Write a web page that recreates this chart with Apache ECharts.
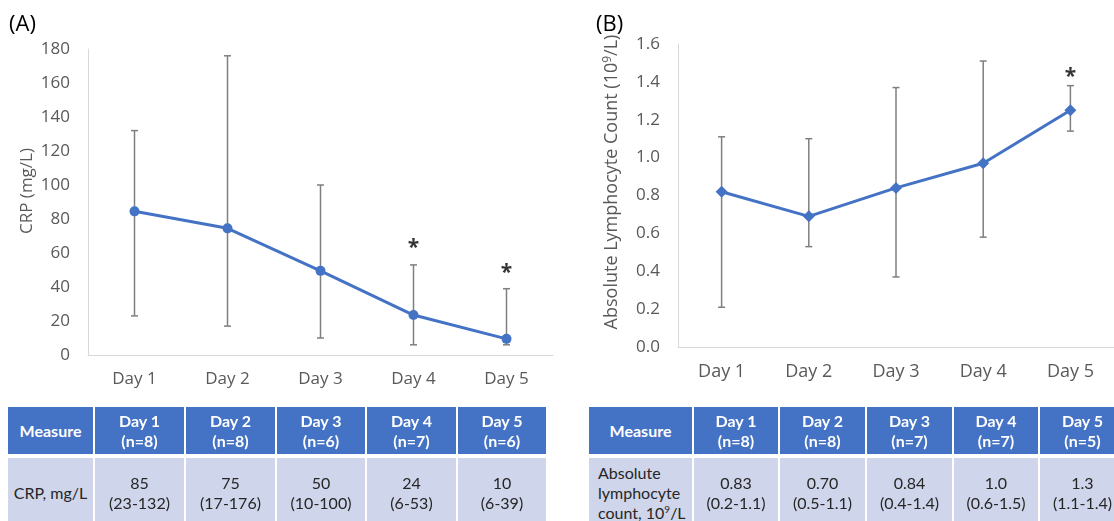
<!DOCTYPE html>
<html><head><meta charset="utf-8">
<script src="https://cdn.jsdelivr.net/npm/echarts@6/dist/echarts.min.js"></script>
<style>
html,body{margin:0;padding:0;background:#fff;width:1114px;height:521px;overflow:hidden;position:relative;}
#chart{position:absolute;left:0;top:0;width:1114px;height:521px;}
.cell{position:absolute;box-sizing:border-box;display:flex;align-items:center;justify-content:center;text-align:center;font-family:Lato,'Open Sans',sans-serif;line-height:20px;}
.hd{background:#4472C4;color:#fff;font-weight:bold;font-size:16px;}
.bd{background:#CFD5EA;color:#262626;font-size:16px;}
.left{justify-content:flex-start;text-align:left;padding-left:9px;}
</style></head>
<body>
<div id="chart"></div>
<div id="tables"></div>
<script>
// ---- data ----
const categories = ['Day 1','Day 2','Day 3','Day 4','Day 5'];
const crpMedian = [84.5, 74.5, 49.5, 23.5, 9.5];
const crpLow    = [23, 17, 10, 6, 6];
const crpHigh   = [132, 176, 100, 53, 39];
const crpSig    = [null, null, null, 66, 51];
const alcMedian = [0.82, 0.69, 0.84, 0.97, 1.25];
const alcLow    = [0.21, 0.53, 0.37, 0.58, 1.14];
const alcHigh   = [1.11, 1.10, 1.37, 1.51, 1.38];
const alcSig    = [null, null, null, null, 1.45];
const crpAxis = {min: 0, max: 180, interval: 20};
const alcAxis = {min: 0, max: 1.6, interval: 0.2};

const crpN = [8, 8, 6, 7, 6];
const crpTableMedian = ['85','75','50','24','10'];
const crpTableRange = ['(23-132)','(17-176)','(10-100)','(6-53)','(6-39)'];
const alcN = [8, 8, 7, 7, 5];
const alcTableMedian = ['0.83','0.70','0.84','1.0','1.3'];
const alcTableRange = ['(0.2-1.1)','(0.5-1.1)','(0.4-1.4)','(0.6-1.5)','(1.1-1.4)'];

// ---- chart ----
const FONT = "'Open Sans', sans-serif";
const LABEL = '#595959';
const BLUE = '#4472C4';

function errRender(params, api){
  const x = api.value(0);
  const lo = api.coord([x, api.value(1)]);
  const hi = api.coord([x, api.value(2)]);
  const w = 3.5;
  const st = {stroke:'#7F7F7F', lineWidth:1.5, fill:null};
  return {type:'group', children:[
    {type:'line', shape:{x1:lo[0],y1:lo[1],x2:hi[0],y2:hi[1]}, style:st},
    {type:'line', shape:{x1:hi[0]-w,y1:hi[1],x2:hi[0]+w,y2:hi[1]}, style:st},
    {type:'line', shape:{x1:lo[0]-w,y1:lo[1],x2:lo[0]+w,y2:lo[1]}, style:st}
  ]};
}

function xAx(gi, fs){
  return {type:'category', gridIndex:gi, data:categories, boundaryGap:true,
    axisTick:{show:false}, axisLine:{lineStyle:{color:'#D9D9D9', width:1}},
    axisLabel:{color:LABEL, fontSize:fs, fontFamily:FONT, margin:16}};
}
function yAx(gi, ax, fmt){
  return {type:'value', gridIndex:gi, min:ax.min, max:ax.max, interval:ax.interval,
    splitLine:{show:false}, axisTick:{show:false},
    axisLine:{show:true, lineStyle:{color:'#D9D9D9', width:1}},
    axisLabel:{color:LABEL, fontSize:17, fontFamily:FONT, margin:18, formatter:fmt}};
}
function sigData(arr){
  const out = [];
  arr.forEach((v,i)=>{ if(v!=null) out.push([i, v]); });
  return out;
}
function sigSeries(gi, arr){
  return {type:'scatter', xAxisIndex:gi, yAxisIndex:gi, data:sigData(arr), symbolSize:1,
    itemStyle:{color:'rgba(0,0,0,0)'}, z:5,
    label:{show:true, formatter:'*', position:'inside', color:'#000', fontSize:21, fontWeight:'bold', fontFamily:FONT, offset:[0,5]}};
}

const chart = echarts.init(document.getElementById('chart'), null, {renderer:'canvas'});
chart.setOption({
  animation:false,
  backgroundColor:'#fff',
  grid:[
    {left:88, top:49, width:465, height:306},
    {left:678, top:44, width:449, height:303}
  ],
  xAxis:[xAx(0, 17), xAx(1, 18)],
  yAxis:[yAx(0, crpAxis, v=>String(v)), yAx(1, alcAxis, v=>v.toFixed(1))],
  series:[
    {type:'custom', xAxisIndex:0, yAxisIndex:0, renderItem:errRender, z:1,
     encode:{x:0, y:[1,2]}, data:categories.map((c,i)=>[i, crpLow[i], crpHigh[i]])},
    {type:'line', xAxisIndex:0, yAxisIndex:0, data:crpMedian, symbol:'circle', symbolSize:10, z:3,
     lineStyle:{color:BLUE, width:3}, itemStyle:{color:BLUE}},
    sigSeries(0, crpSig),
    {type:'custom', xAxisIndex:1, yAxisIndex:1, renderItem:errRender, z:1,
     encode:{x:0, y:[1,2]}, data:categories.map((c,i)=>[i, alcLow[i], alcHigh[i]])},
    {type:'line', xAxisIndex:1, yAxisIndex:1, data:alcMedian, symbol:'diamond', symbolSize:12, z:3,
     lineStyle:{color:BLUE, width:3}, itemStyle:{color:BLUE}},
    sigSeries(1, alcSig)
  ],
  graphic:[
    {type:'text', x:9, y:25, style:{text:'(A)', fill:'#000', font:"22px 'Open Sans', sans-serif", verticalAlign:'middle', align:'left'}},
    {type:'text', x:596, y:25, style:{text:'(B)', fill:'#000', font:"22px 'Open Sans', sans-serif", verticalAlign:'middle', align:'left'}},
    {type:'text', x:27, y:191, rotation:Math.PI/2, style:{text:'CRP (mg/L)', fill:LABEL, font:"17px 'Open Sans', sans-serif", align:'center', verticalAlign:'middle'}},
    {type:'text', x:612, y:182, rotation:Math.PI/2, style:{
      text:'{a|Absolute Lymphocyte Count (10}{s|9}{a|/L)}', align:'center', verticalAlign:'middle',
      rich:{a:{fill:LABEL, fontSize:18, fontFamily:FONT}, s:{fill:LABEL, fontSize:12, fontFamily:FONT, verticalAlign:'top', padding:[0,0,8,0]}}}}
  ]
});

// ---- tables ----
function buildTable(edges, firstLabelHtml, leftAlignFirst, nArr, medArr, rangeArr){
  const host = document.getElementById('tables');
  const hTop = 407, hH = 47, bTop = 458, bH = 70;
  function cell(i, top, h, cls, html){
    const d = document.createElement('div');
    d.className = 'cell ' + cls;
    d.style.left = (edges[i]+1) + 'px';
    d.style.width = (edges[i+1]-edges[i]-2) + 'px';
    d.style.top = top + 'px';
    d.style.height = h + 'px';
    d.innerHTML = '<div>' + html + '</div>';
    host.appendChild(d);
  }
  cell(0, hTop, hH, 'hd', 'Measure');
  categories.forEach((c,i)=>cell(i+1, hTop, hH, 'hd', c + '<br>(n=' + nArr[i] + ')'));
  cell(0, bTop, bH, 'bd' + (leftAlignFirst ? ' left' : ''), firstLabelHtml);
  categories.forEach((c,i)=>cell(i+1, bTop, bH, 'bd', medArr[i] + '<br>' + rangeArr[i]));
}
buildTable([7,94,185,276,366,457,547], 'CRP, mg/L', false, crpN, crpTableMedian, crpTableRange);
buildTable([588,693,779,866,953,1039,1126], 'Absolute<br>lymphocyte<br>count, 10<sup style="font-size:10px;line-height:0;vertical-align:6px">9</sup>/L', true, alcN, alcTableMedian, alcTableRange);
</script>
</body></html>
